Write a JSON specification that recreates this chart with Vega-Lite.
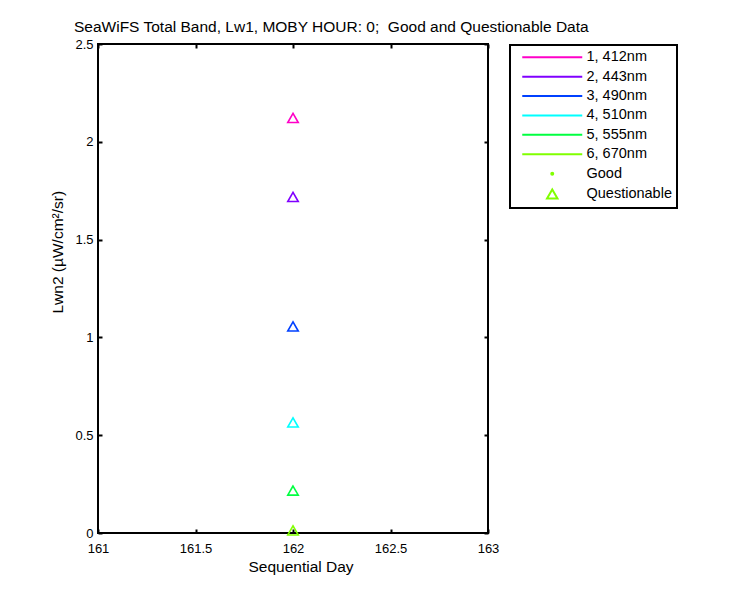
{
  "$schema": "https://vega.github.io/schema/vega-lite/v6.json",
  "width": 390,
  "height": 489,
  "autosize": {"type": "none"},
  "padding": {"left": 98, "top": 44, "right": 262, "bottom": 67},
  "background": "white",
  "title": {
    "text": "SeaWiFS Total Band, Lw1, MOBY HOUR: 0;\u00a0 Good and Questionable Data",
    "anchor": "start",
    "frame": "group",
    "dx": -24,
    "offset": 3,
    "font": "Liberation Sans",
    "fontSize": 15.5,
    "fontWeight": "normal",
    "color": "black"
  },
  "datasets": {
    "moby": [
      {"day": 162, "lwn": 2.122, "band": "1, 412nm", "flag": "Questionable"},
      {"day": 162, "lwn": 1.718, "band": "2, 443nm", "flag": "Questionable"},
      {"day": 162, "lwn": 1.056, "band": "3, 490nm", "flag": "Questionable"},
      {"day": 162, "lwn": 0.565, "band": "4, 510nm", "flag": "Questionable"},
      {"day": 162, "lwn": 0.217, "band": "5, 555nm", "flag": "Questionable"},
      {"day": 162, "lwn": 0.013, "band": "6, 670nm", "flag": "Questionable"}
    ],
    "key": [
      {"entry": "1, 412nm"},
      {"entry": "2, 443nm"},
      {"entry": "3, 490nm"},
      {"entry": "4, 510nm"},
      {"entry": "5, 555nm"},
      {"entry": "6, 670nm"},
      {"entry": "Good"},
      {"entry": "Questionable"}
    ]
  },
  "layer": [
    {
      "data": {"name": "moby"},
      "mark": {"type": "point", "shape": "triangle-up", "filled": false, "size": 110, "strokeWidth": 1.6, "opacity": 1},
      "encoding": {
        "x": {
          "field": "day",
          "type": "quantitative",
          "scale": {"domain": [161, 163], "nice": false, "zero": false},
          "axis": {
            "values": [161, 161.5, 162, 162.5, 163],
            "labelExpr": "'' + datum.value",
            "title": "Sequential Day",
            "titleAlign": "left",
            "titleX": 150,
            "titlePadding": 4
          }
        },
        "y": {
          "field": "lwn",
          "type": "quantitative",
          "scale": {"domain": [0, 2.5], "nice": false, "zero": false},
          "axis": {
            "values": [0, 0.5, 1, 1.5, 2, 2.5],
            "labelExpr": "'' + datum.value",
            "title": "Lwn2 (µW/cm²/sr)",
            "titleAlign": "left",
            "titleBaseline": "middle",
            "titleX": -41,
            "titleY": 269
          }
        },
        "color": {
          "field": "band",
          "type": "nominal",
          "scale": {
            "domain": ["1, 412nm", "2, 443nm", "3, 490nm", "4, 510nm", "5, 555nm", "6, 670nm"],
            "range": ["#ff00c8", "#8000ff", "#0040ff", "#00ffff", "#00ff40", "#80ff00"]
          },
          "legend": null
        }
      }
    },
    {
      "data": {"name": "key"},
      "mark": {"type": "point", "filled": false, "strokeWidth": 2, "opacity": 1},
      "encoding": {
        "x": {
          "field": "day",
          "type": "quantitative",
          "axis": {"orient": "top", "values": [161, 161.5, 162, 162.5, 163], "labels": false, "title": null}
        },
        "y": {
          "field": "lwn",
          "type": "quantitative",
          "axis": {"orient": "right", "values": [0, 0.5, 1, 1.5, 2, 2.5], "labels": false, "title": null}
        },
        "color": {
          "field": "entry",
          "type": "nominal",
          "scale": {
            "domain": ["1, 412nm", "2, 443nm", "3, 490nm", "4, 510nm", "5, 555nm", "6, 670nm", "Good", "Questionable"],
            "range": ["#ff00c8", "#8000ff", "#0040ff", "#00ffff", "#00ff40", "#80ff00", "#80ff00", "#80ff00"]
          },
          "legend": {"title": null}
        },
        "shape": {
          "field": "entry",
          "type": "nominal",
          "scale": {
            "domain": ["1, 412nm", "2, 443nm", "3, 490nm", "4, 510nm", "5, 555nm", "6, 670nm", "Good", "Questionable"],
            "range": ["M-6,0H6", "M-6,0H6", "M-6,0H6", "M-6,0H6", "M-6,0H6", "M-6,0H6", "circle", "triangle-up"]
          },
          "legend": {"title": null}
        },
        "size": {
          "field": "entry",
          "type": "nominal",
          "scale": {
            "type": "ordinal",
            "domain": ["1, 412nm", "2, 443nm", "3, 490nm", "4, 510nm", "5, 555nm", "6, 670nm", "Good", "Questionable"],
            "range": [100, 100, 100, 100, 100, 100, 4, 110]
          },
          "legend": {"title": null}
        }
      }
    }
  ],
  "resolve": {
    "scale": {"color": "independent", "shape": "independent", "size": "independent"},
    "axis": {"x": "independent", "y": "independent"}
  },
  "config": {
    "view": {"stroke": "black", "strokeWidth": 2},
    "axis": {
      "domain": false,
      "grid": false,
      "ticks": true,
      "tickSize": -4,
      "tickWidth": 2,
      "tickColor": "black",
      "labelFont": "Liberation Sans",
      "labelFontSize": 13,
      "labelColor": "black",
      "labelFlush": false,
      "labelOverlap": false,
      "titleFont": "Liberation Sans",
      "titleFontSize": 15.5,
      "titleFontWeight": "normal",
      "titleColor": "black"
    },
    "axisX": {"labelPadding": 13},
    "axisY": {"labelPadding": 9},
    "legend": {
      "orient": "none",
      "legendX": 412,
      "legendY": 1,
      "padding": 5,
      "strokeColor": "black",
      "strokeWidth": 2,
      "fillColor": "white",
      "symbolOffset": 30,
      "symbolStrokeWidth": 2,
      "labelOffset": 27,
      "labelFont": "Liberation Sans",
      "labelFontSize": 14.5,
      "labelColor": "black",
      "rowPadding": 4.4
    }
  }
}
